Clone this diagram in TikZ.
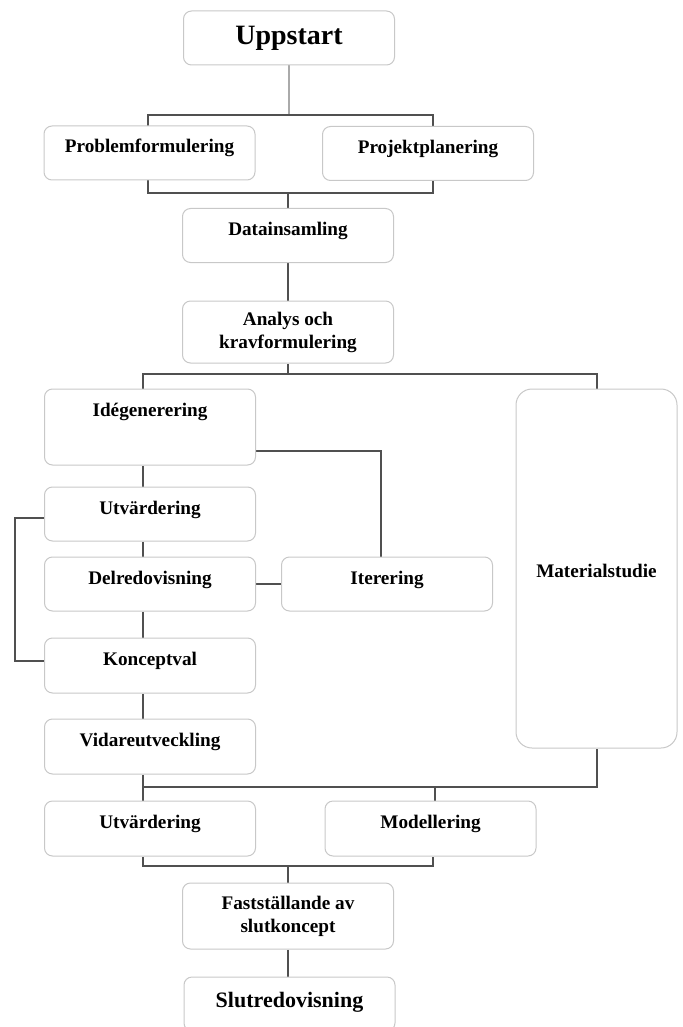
\documentclass[tikz,border=0pt]{standalone}
\usepackage{fontspec}
\setmainfont{Liberation Serif}
\usetikzlibrary{backgrounds}
\definecolor{linkgray}{RGB}{80,80,80}
\definecolor{softgray}{RGB}{170,170,170}
\definecolor{boxgray}{RGB}{200,200,200}
\tikzset{
  stage/.style={draw=boxgray, line width=0.5pt, rounded corners=4pt, fill=white,
    minimum width=105.5pt, minimum height=27pt, inner sep=0pt, align=center,
    font=\bfseries\fontsize{9.6}{11.5}\selectfont, text height=7pt, text depth=7pt},
  link/.style={draw=linkgray, line width=0.7pt},
}
\begin{document}
\begin{tikzpicture}[x=0.5pt, y=-0.5pt]
\useasboundingbox (0,0) rectangle (683,1027);
\node[stage, font=\bfseries\fontsize{14}{16}\selectfont, text height=10pt, text depth=3pt] (upp) at (289,38){Uppstart};
\node[stage] (prob) at (149.5,153){Problemformulering};
\node[stage] (proj) at (428,153.5){Projektplanering};
\node[stage] (data) at (288,235.5){Datainsamling};
\node[stage, minimum height=31pt, text height=, text depth=] (analys) at (288,332){Analys och\\kravformulering};
\node[stage, minimum height=38pt, text depth=18pt] (ide) at (150,427){Idégenerering};
\node[stage, minimum width=80.5pt, minimum height=179.5pt, rounded corners=8pt, text height=8.5pt, text depth=0pt] (mat) at (596.5,568.5){Materialstudie};
\node[stage] (utv1) at (150,514){Utvärdering};
\node[stage] (del) at (150,584){Delredovisning};
\node[stage] (iter) at (387,584){Iterering};
\node[stage, minimum height=27.5pt] (konc) at (150,665.5){Konceptval};
\node[stage, minimum height=27.5pt] (vidare) at (150,746.5){Vidareutveckling};
\node[stage, minimum height=27.5pt] (utv2) at (150,828.5){Utvärdering};
\node[stage, minimum height=27.5pt] (mod) at (430.5,828.5){Modellering};
\node[stage, minimum height=33pt, text height=, text depth=] (fast) at (288,916){Fastställande av\\slutkoncept};
\node[stage, font=\bfseries\fontsize{11}{13}\selectfont, text height=8pt, text depth=5pt] (slut) at (289.5,1004){Slutredovisning};
\coordinate (j1) at (289,115);
\coordinate (j1l) at (148,115);
\coordinate (j1r) at (433,115);
\coordinate (j2l) at (148,193);
\coordinate (j2r) at (433,193);
\coordinate (j3l) at (143,374);
\coordinate (j3r) at (597,374);
\coordinate (j4) at (381,451);
\coordinate (loopt) at (15,518);
\coordinate (loopb) at (15,661);
\coordinate (j5l) at (143,787);
\coordinate (j5m) at (435,787);
\coordinate (j5r) at (597,787);
\coordinate (j6l) at (143,866);
\coordinate (j6r) at (433,866);
\begin{scope}[on background layer]
\draw[draw=softgray, line width=0.7pt](upp.south) -- (j1);
\draw[link](j2l) -- (j1l) -- (j1r) -- (j2r) -- cycle;
\draw[link](data.north |- j2l) -- (data.north);
\draw[link](data.south) -- (analys.north);
\draw[link](analys.south) -- (analys.south |- j3l);
\draw[link](ide.north -| j3l) -- (j3l) -- (j3r) -- (mat.north -| j3r);
\draw[link](ide.east |- j4) -- (j4) -- (iter.north -| j4);
\draw[link](ide.south -| j3l) -- (utv1.north -| j3l);
\draw[link](utv1.west |- loopt) -- (loopt) -- (loopb) -- (konc.west |- loopb);
\draw[link](utv1.south -| j3l) -- (del.north -| j3l);
\draw[link](del.east) -- (iter.west);
\draw[link](del.south -| j3l) -- (konc.north -| j3l);
\draw[link](konc.south -| j3l) -- (vidare.north -| j3l);
\draw[link](vidare.south -| j5l) -- (utv2.north -| j5l);
\draw[link](j5l) -- (j5r) -- (mat.south -| j5r);
\draw[link](j5m) -- (mod.north -| j5m);
\draw[link](utv2.south -| j6l) -- (j6l) -- (j6r) -- (mod.south -| j6r);
\draw[link](fast.north |- j6l) -- (fast.north);
\draw[link](fast.south) -- (fast.south |- slut.north);
\end{scope}
\end{tikzpicture}
\end{document}
